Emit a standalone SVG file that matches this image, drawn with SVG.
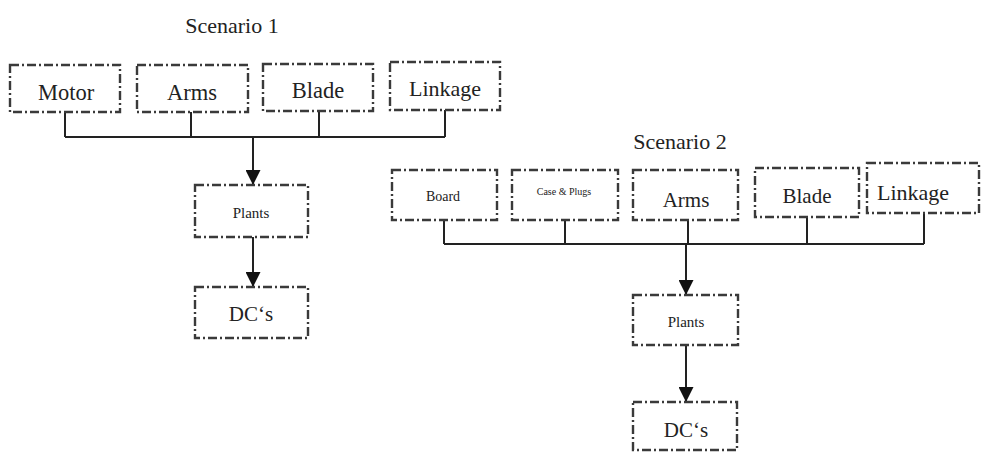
<svg xmlns="http://www.w3.org/2000/svg" width="981" height="452" viewBox="0 0 981 452">
<style>
.box{fill:#fff;stroke:#3a3a3a;stroke-width:2.4;stroke-dasharray:9 3 2 3}
.t{font-family:"Liberation Serif","Times New Roman",serif;fill:#222;text-anchor:middle}
.ln{fill:none;stroke:#222;stroke-width:2}
</style>
<defs>
<marker id="ah" viewBox="0 0 10 10" refX="10" refY="5" markerWidth="8" markerHeight="7.5" markerUnits="strokeWidth" orient="auto">
<path d="M0,0 L10,5 L0,10 Z" fill="#111"/>
</marker>
</defs>
<rect width="981" height="452" fill="#fff"/>
<text class="t" x="232" y="33" font-size="22">Scenario 1</text>
<text class="t" x="680" y="149" font-size="22">Scenario 2</text>
<g id="connectors">
<path class="ln" d="M65,112 V137 M191,112 V137 M319,111 V137 M445,110 V137 M65,137 H445"/>
<path class="ln" d="M253,137 V185" marker-end="url(#ah)"/>
<path class="ln" d="M253,237 V287" marker-end="url(#ah)"/>
<path class="ln" d="M444,220 V244 M565,220 V244 M807,217 V244 M924,213 V244 M444,244 H924 M688,220 V244"/>
<path class="ln" d="M686,244 V295" marker-end="url(#ah)"/>
<path class="ln" d="M686,345 V402" marker-end="url(#ah)"/>
</g>
<g id="motor"><rect class="box" x="10" y="65" width="110" height="47"/><text class="t" x="66" y="100" font-size="22.5">Motor</text></g>
<g id="arms1"><rect class="box" x="137" y="65" width="111" height="47"/><text class="t" x="192" y="100" font-size="22.5">Arms</text></g>
<g id="blade1"><rect class="box" x="263" y="64" width="110" height="47"/><text class="t" x="318" y="98" font-size="22.5">Blade</text></g>
<g id="linkage1"><rect class="box" x="390" y="62" width="110" height="48"/><text class="t" x="445" y="96" font-size="22">Linkage</text></g>
<g id="plants1"><rect class="box" x="195" y="185" width="113" height="52"/><text class="t" x="251" y="218" font-size="15">Plants</text></g>
<g id="dcs1"><rect class="box" x="195" y="287" width="113" height="51"/><text class="t" x="251" y="321" font-size="21">DC‘s</text></g>
<g id="board"><rect class="box" x="392" y="170" width="105" height="50"/><text class="t" x="443" y="201" font-size="14">Board</text></g>
<g id="case"><rect class="box" x="512" y="170" width="106" height="50"/><text class="t" x="564" y="195" font-size="10">Case &amp; Plugs</text></g>
<g id="arms2"><rect class="box" x="633" y="170" width="105" height="50"/><text class="t" x="686" y="207" font-size="21">Arms</text></g>
<g id="blade2"><rect class="box" x="755" y="168" width="104" height="49"/><text class="t" x="807" y="203" font-size="21">Blade</text></g>
<g id="linkage2"><rect class="box" x="867" y="163" width="112" height="50"/><text class="t" x="913" y="200" font-size="22">Linkage</text></g>
<g id="plants2"><rect class="box" x="633" y="295" width="105" height="50"/><text class="t" x="686" y="327" font-size="15">Plants</text></g>
<g id="dcs2"><rect class="box" x="633" y="402" width="104" height="48"/><text class="t" x="686" y="437" font-size="21">DC‘s</text></g>
</svg>
